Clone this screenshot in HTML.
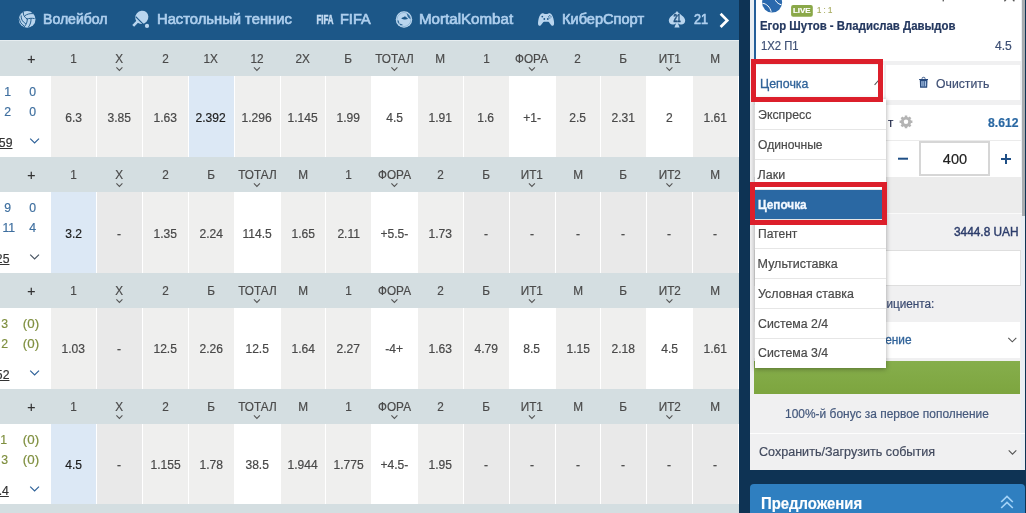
<!DOCTYPE html>
<html lang="ru">
<head>
<meta charset="utf-8">
<title>Цепочка</title>
<style>
html,body{margin:0;padding:0}
body{width:1026px;height:513px;overflow:hidden;background:#0e3354;font-family:"Liberation Sans",sans-serif;position:relative}
#pg{position:absolute;left:0;top:0;width:1026px;height:513px;overflow:hidden}
#pg div,#pg span,#pg svg{position:absolute}
#pg span{white-space:nowrap;-webkit-text-stroke-width:.2px}
</style>
</head>
<body>
<div id="pg">
<!-- nav -->
<div style="left:0;top:0;width:739px;height:40px;background:#1c5788"></div>
<div style="left:0;top:40px;width:739px;height:1px;background:#e6edf0"></div>
<div style="left:0px;top:41px;width:739px;height:35px;background:#d4dee1;"></div>
<div style="left:0px;top:76px;width:739px;height:81px;background:#fff;"></div>
<div style="left:51px;top:76px;width:45px;height:81px;background:#efefee;"></div>
<div style="left:97px;top:76px;width:45px;height:81px;background:#efefee;"></div>
<div style="left:143px;top:76px;width:45px;height:81px;background:#efefee;"></div>
<div style="left:189px;top:76px;width:45px;height:81px;background:#dce8f5;"></div>
<div style="left:235px;top:76px;width:45px;height:81px;background:#efefee;"></div>
<div style="left:281px;top:76px;width:44px;height:81px;background:#efefee;"></div>
<div style="left:326px;top:76px;width:45px;height:81px;background:#efefee;"></div>
<div style="left:418px;top:76px;width:45px;height:81px;background:#efefee;"></div>
<div style="left:464px;top:76px;width:45px;height:81px;background:#efefee;"></div>
<div style="left:556px;top:76px;width:44px;height:81px;background:#efefee;"></div>
<div style="left:601px;top:76px;width:45px;height:81px;background:#efefee;"></div>
<div style="left:693px;top:76px;width:45px;height:81px;background:#efefee;"></div>
<div style="left:0px;top:157px;width:739px;height:35px;background:#d4dee1;"></div>
<div style="left:0px;top:192px;width:739px;height:81px;background:#fff;"></div>
<div style="left:51px;top:192px;width:45px;height:81px;background:#dce8f5;"></div>
<div style="left:97px;top:192px;width:45px;height:81px;background:#e9e9e9;"></div>
<div style="left:143px;top:192px;width:45px;height:81px;background:#efefee;"></div>
<div style="left:189px;top:192px;width:45px;height:81px;background:#efefee;"></div>
<div style="left:281px;top:192px;width:44px;height:81px;background:#efefee;"></div>
<div style="left:326px;top:192px;width:45px;height:81px;background:#efefee;"></div>
<div style="left:418px;top:192px;width:45px;height:81px;background:#efefee;"></div>
<div style="left:464px;top:192px;width:45px;height:81px;background:#e9e9e9;"></div>
<div style="left:510px;top:192px;width:45px;height:81px;background:#e9e9e9;"></div>
<div style="left:556px;top:192px;width:44px;height:81px;background:#e9e9e9;"></div>
<div style="left:601px;top:192px;width:45px;height:81px;background:#e9e9e9;"></div>
<div style="left:647px;top:192px;width:45px;height:81px;background:#e9e9e9;"></div>
<div style="left:693px;top:192px;width:45px;height:81px;background:#e9e9e9;"></div>
<div style="left:0px;top:273px;width:739px;height:35px;background:#d4dee1;"></div>
<div style="left:0px;top:308px;width:739px;height:81px;background:#fff;"></div>
<div style="left:51px;top:308px;width:45px;height:81px;background:#efefee;"></div>
<div style="left:97px;top:308px;width:45px;height:81px;background:#e9e9e9;"></div>
<div style="left:143px;top:308px;width:45px;height:81px;background:#efefee;"></div>
<div style="left:189px;top:308px;width:45px;height:81px;background:#efefee;"></div>
<div style="left:281px;top:308px;width:44px;height:81px;background:#efefee;"></div>
<div style="left:326px;top:308px;width:45px;height:81px;background:#efefee;"></div>
<div style="left:418px;top:308px;width:45px;height:81px;background:#efefee;"></div>
<div style="left:464px;top:308px;width:45px;height:81px;background:#efefee;"></div>
<div style="left:556px;top:308px;width:44px;height:81px;background:#efefee;"></div>
<div style="left:601px;top:308px;width:45px;height:81px;background:#efefee;"></div>
<div style="left:693px;top:308px;width:45px;height:81px;background:#efefee;"></div>
<div style="left:0px;top:389px;width:739px;height:35px;background:#d4dee1;"></div>
<div style="left:0px;top:424px;width:739px;height:80px;background:#fff;"></div>
<div style="left:51px;top:424px;width:45px;height:80px;background:#dce8f5;"></div>
<div style="left:97px;top:424px;width:45px;height:80px;background:#e9e9e9;"></div>
<div style="left:143px;top:424px;width:45px;height:80px;background:#efefee;"></div>
<div style="left:189px;top:424px;width:45px;height:80px;background:#efefee;"></div>
<div style="left:281px;top:424px;width:44px;height:80px;background:#efefee;"></div>
<div style="left:326px;top:424px;width:45px;height:80px;background:#efefee;"></div>
<div style="left:418px;top:424px;width:45px;height:80px;background:#efefee;"></div>
<div style="left:464px;top:424px;width:45px;height:80px;background:#e9e9e9;"></div>
<div style="left:510px;top:424px;width:45px;height:80px;background:#e9e9e9;"></div>
<div style="left:556px;top:424px;width:44px;height:80px;background:#e9e9e9;"></div>
<div style="left:601px;top:424px;width:45px;height:80px;background:#e9e9e9;"></div>
<div style="left:647px;top:424px;width:45px;height:80px;background:#e9e9e9;"></div>
<div style="left:693px;top:424px;width:45px;height:80px;background:#e9e9e9;"></div>
<div style="left:0px;top:504px;width:739px;height:9px;background:#d4dee1;"></div>
<svg style="left:0;top:0" width="739" height="513" fill="none" stroke="#555" stroke-width="1.1"><path d="M30.2 138.6l4.4 4.4 4.4-4.4" stroke="#2f6299" stroke-width="1.2"/><path d="M30.2 254.6l4.4 4.4 4.4-4.4" stroke="#4a5663" stroke-width="1.2"/><path d="M30.2 370.6l4.4 4.4 4.4-4.4" stroke="#2f6299" stroke-width="1.2"/><path d="M30.2 486.6l4.4 4.4 4.4-4.4" stroke="#2f6299" stroke-width="1.2"/><path d="M116.4 67.4l3 3 3-3"/><path d="M253.9 67.4l3 3 3-3"/><path d="M391.4 67.4l3 3 3-3"/><path d="M528.9 67.4l3 3 3-3"/><path d="M666.4 67.4l3 3 3-3"/><path d="M116.4 183.4l3 3 3-3"/><path d="M253.9 183.4l3 3 3-3"/><path d="M391.4 183.4l3 3 3-3"/><path d="M528.9 183.4l3 3 3-3"/><path d="M666.4 183.4l3 3 3-3"/><path d="M116.4 299.4l3 3 3-3"/><path d="M253.9 299.4l3 3 3-3"/><path d="M391.4 299.4l3 3 3-3"/><path d="M528.9 299.4l3 3 3-3"/><path d="M666.4 299.4l3 3 3-3"/><path d="M116.4 415.4l3 3 3-3"/><path d="M253.9 415.4l3 3 3-3"/><path d="M391.4 415.4l3 3 3-3"/><path d="M528.9 415.4l3 3 3-3"/><path d="M666.4 415.4l3 3 3-3"/></svg>
<svg style="left:0;top:0" width="739" height="40" viewBox="0 0 739 40">
<!-- volleyball -->
<g>
<circle cx="27.150" cy="19.450" r="8.350" fill="#b9d5ee"/>
<g fill="none" stroke="#1c5788" stroke-width=".95" stroke-linecap="round">
<path d="M23.300 12.400c-.2 2.400.8 4.600 3.800 6.600"/>
<path d="M25 15.600c2-1.600 5-2.200 8-2"/>
<path d="M27.200 19c2.200-.8 4.600-.9 7-.5"/>
<path d="M27.300 19.200c0 2.800-.9 5.400-3 7.500"/>
<path d="M31 18.700c.2 2.900-.6 5.700-2.400 8.200"/>
<path d="M21.100 15.800c-.2 3.200 1.200 6 4.400 7.800"/>
<path d="M19.500 18.900c.2 2.800 1.700 5.200 4.300 6.800"/>
</g></g>
<!-- ping pong -->
<g>
<path d="M133.200 25.900l4.600-4.800" stroke="#b9d5ee" stroke-width="2.600" fill="none"/>
<ellipse cx="141.800" cy="17.300" rx="6.400" ry="6.800" fill="#b9d5ee" transform="rotate(40 141.800 17.300)"/>
<path d="M135.700 16.700l7.400 7.500" stroke="#1c5788" stroke-width="1.200" fill="none"/>
<circle cx="147" cy="25.900" r="2.100" fill="#b9d5ee"/>
</g>
<!-- FIFA logo -->
<text x="316.400" y="24" font-family="'Liberation Sans',sans-serif" font-size="12" font-weight="700" fill="#c3dbf2" stroke="#c3dbf2" stroke-width=".55" textLength="17.200" lengthAdjust="spacingAndGlyphs">FIFA</text>
<!-- MK -->
<g>
<circle cx="404" cy="19.500" r="8.200" fill="#c6def3"/>
<circle cx="404" cy="19.500" r="7" fill="#b9d5ee" stroke="#6f9fc8" stroke-width=".6"/>
<path d="M406.400 13.300c2.400 1 4 3.300 4.200 6-1-.6-2-1.600-2.800-2.400-.3-1.300-.8-2.500-1.400-3.600z" fill="#2f6a9c"/>
<path d="M401.300 18.400c.9-.8 2-1.300 2.600-1.400l.3-1 .6.900 1-.7-.1 1 1.200-.2-.5.900c.9.200 1.500.500 1.800.900-1.600.900-4.800 1.100-6.900-.4z" fill="#1c5788"/>
<path d="M398.100 20.800c.1 1 .4 1.800.9 2.400M400.300 24.300c.5.300 1.100.5 1.700.5" fill="none" stroke="#1c5788" stroke-width="1" stroke-linecap="round"/>
</g>
<!-- gamepad -->
<path d="M541.700 13.600c1-.5 2.200-.3 3 .5h2.700c.8-.8 2-1 3-.5 1.800.8 3 4.300 3.500 7.500.4 2.600.2 4.300-.8 4.600-1.300.4-2.400-1-3.600-2.800-.5-.8-1-1.100-1.700-1.100h-3.500c-.7 0-1.200.3-1.700 1.100-1.200 1.800-2.300 3.200-3.600 2.800-1-.3-1.200-2-.8-4.600.5-3.200 1.700-6.700 3.500-7.500z" fill="#b9d5ee"/>
<g fill="#1c5788"><circle cx="542.300" cy="16.600" r=".9"/><circle cx="549.800" cy="15.600" r=".6"/><circle cx="551" cy="16.800" r=".6"/><circle cx="548.600" cy="16.800" r=".6"/><circle cx="549.800" cy="18" r=".6"/><circle cx="544.300" cy="19" r=".9"/><circle cx="547.800" cy="19" r=".9"/></g>
<!-- spade -->
<g>
<path d="M677 10.900C679 14 685.200 16.400 685.200 20.500C685.200 23 683.400 24.400 681.400 24.400C680 24.400 678.700 23.900 677.800 22.900L679.600 27.600H674.400L676.200 22.900C675.300 23.900 674 24.400 672.600 24.400C670.600 24.400 668.800 23 668.800 20.500C668.800 16.400 675 14 677 10.900Z" fill="#b9d5ee"/>
<text x="677.100" y="22.300" font-family="'Liberation Sans',sans-serif" font-size="10.600" font-weight="700" fill="#1f4f7c" stroke="#1f4f7c" stroke-width=".45" text-anchor="middle" textLength="7.300" lengthAdjust="spacingAndGlyphs">21</text>
</g>
<!-- next arrow -->
<path d="M720.600 13.800l6.600 6.600-6.600 6.600" fill="none" stroke="#fff" stroke-width="2.700"/>
</svg>
<!-- right panel -->
<div style="left:750px;top:0;width:275px;height:470px;background:#f0f0f1"></div>
<div style="left:1021px;top:0;width:4px;height:470px;background:#e9eef4"></div>
<div style="left:750px;top:0;width:4px;height:61px;background:#e9eef3"></div>
<div style="left:756px;top:0;width:265px;height:61px;background:#fff"></div>
<div style="left:754px;top:0;width:2px;height:61px;background:#255f9a"></div>
<div style="left:754px;top:65px;width:130px;height:35px;background:#fff"></div>
<div style="left:886px;top:65px;width:134px;height:35px;background:#fff"></div>
<div style="left:754px;top:105px;width:267px;height:72px;background:#fff"></div>
<div style="left:754px;top:140px;width:267px;height:1px;background:#ebebeb"></div>
<div style="left:919px;top:141px;width:67px;height:31px;background:#fff;border:2px solid #d6d6d6"></div>
<div style="left:754px;top:177px;width:267px;height:36px;background:#ececec"></div>
<div style="left:750px;top:213px;width:275px;height:1px;background:#fafafa"></div>
<div style="left:754px;top:250px;width:265px;height:34px;background:#fff;border:1px solid #dedede"></div>
<div style="left:754px;top:322px;width:266px;height:36px;background:#fff"></div>
<div style="left:754px;top:361px;width:266px;height:33px;background:linear-gradient(#86ae4c,#7da53f)"></div>
<div style="left:750px;top:433px;width:275px;height:1px;background:#fdfdfd"></div>
<div style="left:750px;top:484px;width:275px;height:29px;background:#2f7fc0;border-radius:4px 4px 0 0"></div>
<div style="left:1022px;top:0;width:3px;height:216px;background:#a8acb0"></div>
<svg style="left:739px;top:0" width="287" height="513" viewBox="739 0 287 513">
<!-- tennis ball -->
<circle cx="772.100" cy="2.600" r="10" fill="#2b69ad"/>
<path d="M762.400 3.200c4.200.6 7.600 3.800 8.800 8.600M774.600 -2c.6 3.200 3.200 6 6.800 6.800" fill="none" stroke="#fff" stroke-width="1"/>
<!-- live badge -->
<rect x="791.100" y="5.100" width="21.700" height="11.700" rx="2" fill="#8aa848"/>
<!-- top partial marks -->
<path d="M1009.400 -4L1004.400 1.200M1009.400 -4L1014.400 1.200" fill="none" stroke="#555" stroke-width="1.300"/>
<rect x="942.600" y="0" width="1.300" height="1.400" fill="#555"/>
<!-- select caret -->
<path d="M874.600 84.800l3.400-3.800 3.400 3.800" fill="none" stroke="#555" stroke-width="1.100"/>
<!-- trash -->
<g>
<rect x="919.100" y="79" width="8.900" height="1" fill="#27497d"/>
<path d="M922.100 79v-.7a1 1 0 0 1 1-1h.9a1 1 0 0 1 1 1v.7" fill="none" stroke="#27497d" stroke-width=".8"/>
<path d="M919.800 79.900h7.700l-.3 7.900h-7.100z" fill="#27497d"/>
<rect x="921.300" y="81.100" width="4.800" height="5.300" fill="#a9c4e6"/>
<rect x="922.600" y="81.100" width=".7" height="5.300" fill="#27497d"/>
<rect x="924.200" y="81.100" width=".7" height="5.300" fill="#27497d"/>
</g>
<!-- gear -->
<g transform="translate(906 121.800)">
<circle r="3.700" fill="none" stroke="#b4b4b4" stroke-width="2.900"/>
<g stroke="#b4b4b4" stroke-width="2.500">
<path d="M0 -6.400V-4M0 6.400V4M-6.400 0H-4M6.400 0H4M-4.530 -4.530L-2.900 -2.900M4.530 4.530L2.900 2.900M-4.530 4.530L-2.900 2.900M4.530 -4.530L2.900 -2.900"/>
</g>
</g>
<!-- minus / plus -->
<rect x="898" y="157.700" width="10" height="2" fill="#1f4f86"/>
<rect x="1001" y="158" width="10" height="2" fill="#1f4f86"/>
<rect x="1005" y="154" width="2" height="10" fill="#1f4f86"/>
<!-- chevrons -->
<path d="M1008.300 337.800l4 4 4-4" fill="none" stroke="#555" stroke-width="1.100"/>
<path d="M1008.700 450.400l3.800 3.800 3.800-3.800" fill="none" stroke="#555" stroke-width="1.100"/>
<!-- double chevron up -->
<path d="M1001.200 502l5.800-5.500 5.800 5.500M1001.200 508l5.800-5.500 5.800 5.500" fill="none" stroke="#a3d3f7" stroke-width="1.700"/>
</svg>
<span style="left:43.40px;top:9.40px;font-size:14px;line-height:20px;color:#aecfee;transform:scaleX(1.005);transform-origin:0 50%;-webkit-text-stroke:0.65px #aecfee;">Волейбол</span>
<span style="left:157.20px;top:9.40px;font-size:14px;line-height:20px;color:#aecfee;transform:scaleX(1.054);transform-origin:0 50%;-webkit-text-stroke:0.65px #aecfee;">Настольный теннис</span>
<span style="left:340.40px;top:9.40px;font-size:14px;line-height:20px;color:#aecfee;transform:scaleX(1.035);transform-origin:0 50%;-webkit-text-stroke:0.65px #aecfee;">FIFA</span>
<span style="left:419.40px;top:9.40px;font-size:14px;line-height:20px;color:#aecfee;transform:scaleX(1.080);transform-origin:0 50%;-webkit-text-stroke:0.65px #aecfee;">MortalKombat</span>
<span style="left:562.40px;top:9.40px;font-size:14px;line-height:20px;color:#aecfee;transform:scaleX(1.042);transform-origin:0 50%;-webkit-text-stroke:0.65px #aecfee;">КиберСпорт</span>
<span style="left:693.50px;top:9.40px;font-size:14px;line-height:20px;color:#aecfee;transform:scaleX(0.899);transform-origin:0 50%;-webkit-text-stroke:0.65px #aecfee;">21</span>
<span style="left:70.14px;top:48.60px;font-size:12.5px;line-height:20px;color:#4a4a4a;transform:scaleX(0.940);transform-origin:50% 50%;">1</span>
<span style="left:64.92px;top:108.10px;font-size:12.5px;line-height:20px;color:#484848;transform:scaleX(0.965);transform-origin:50% 50%;">6.3</span>
<span style="left:115.27px;top:48.60px;font-size:12.5px;line-height:20px;color:#4a4a4a;transform:scaleX(0.940);transform-origin:50% 50%;">X</span>
<span style="left:107.27px;top:108.10px;font-size:12.5px;line-height:20px;color:#484848;transform:scaleX(0.965);transform-origin:50% 50%;">3.85</span>
<span style="left:161.80px;top:48.60px;font-size:12.5px;line-height:20px;color:#4a4a4a;transform:scaleX(0.940);transform-origin:50% 50%;">2</span>
<span style="left:153.10px;top:108.10px;font-size:12.5px;line-height:20px;color:#484848;transform:scaleX(0.965);transform-origin:50% 50%;">1.63</span>
<span style="left:203.46px;top:48.60px;font-size:12.5px;line-height:20px;color:#4a4a4a;transform:scaleX(0.940);transform-origin:50% 50%;">1X</span>
<span style="left:195.46px;top:108.10px;font-size:12.5px;line-height:20px;color:#1d1d1d;transform:scaleX(0.965);transform-origin:50% 50%;">2.392</span>
<span style="left:249.98px;top:48.60px;font-size:12.5px;line-height:20px;color:#4a4a4a;transform:scaleX(0.940);transform-origin:50% 50%;">12</span>
<span style="left:241.29px;top:108.10px;font-size:12.5px;line-height:20px;color:#484848;transform:scaleX(0.965);transform-origin:50% 50%;">1.296</span>
<span style="left:295.12px;top:48.60px;font-size:12.5px;line-height:20px;color:#4a4a4a;transform:scaleX(0.940);transform-origin:50% 50%;">2X</span>
<span style="left:287.12px;top:108.10px;font-size:12.5px;line-height:20px;color:#484848;transform:scaleX(0.965);transform-origin:50% 50%;">1.145</span>
<span style="left:344.49px;top:48.60px;font-size:12.5px;line-height:20px;color:#4a4a4a;transform:scaleX(0.940);transform-origin:50% 50%;">Б</span>
<span style="left:336.42px;top:108.10px;font-size:12.5px;line-height:20px;color:#484848;transform:scaleX(0.965);transform-origin:50% 50%;">1.99</span>
<span style="left:374.00px;top:48.60px;font-size:12.5px;line-height:20px;color:#4a4a4a;transform:scaleX(0.940);transform-origin:50% 50%;">ТОТАЛ</span>
<span style="left:385.73px;top:108.10px;font-size:12.5px;line-height:20px;color:#484848;transform:scaleX(0.965);transform-origin:50% 50%;">4.5</span>
<span style="left:435.04px;top:48.60px;font-size:12.5px;line-height:20px;color:#4a4a4a;transform:scaleX(0.940);transform-origin:50% 50%;">М</span>
<span style="left:428.08px;top:108.10px;font-size:12.5px;line-height:20px;color:#484848;transform:scaleX(0.965);transform-origin:50% 50%;">1.91</span>
<span style="left:482.61px;top:48.60px;font-size:12.5px;line-height:20px;color:#4a4a4a;transform:scaleX(0.940);transform-origin:50% 50%;">1</span>
<span style="left:477.39px;top:108.10px;font-size:12.5px;line-height:20px;color:#484848;transform:scaleX(0.965);transform-origin:50% 50%;">1.6</span>
<span style="left:514.38px;top:48.60px;font-size:12.5px;line-height:20px;color:#4a4a4a;transform:scaleX(0.940);transform-origin:50% 50%;">ФОРА</span>
<span style="left:522.70px;top:108.10px;font-size:12.5px;line-height:20px;color:#484848;transform:scaleX(0.965);transform-origin:50% 50%;">+1-</span>
<span style="left:574.27px;top:48.60px;font-size:12.5px;line-height:20px;color:#4a4a4a;transform:scaleX(0.940);transform-origin:50% 50%;">2</span>
<span style="left:569.05px;top:108.10px;font-size:12.5px;line-height:20px;color:#484848;transform:scaleX(0.965);transform-origin:50% 50%;">2.5</span>
<span style="left:619.47px;top:48.60px;font-size:12.5px;line-height:20px;color:#4a4a4a;transform:scaleX(0.940);transform-origin:50% 50%;">Б</span>
<span style="left:611.40px;top:108.10px;font-size:12.5px;line-height:20px;color:#484848;transform:scaleX(0.965);transform-origin:50% 50%;">2.31</span>
<span style="left:657.62px;top:48.60px;font-size:12.5px;line-height:20px;color:#4a4a4a;transform:scaleX(0.940);transform-origin:50% 50%;">ИТ1</span>
<span style="left:665.93px;top:108.10px;font-size:12.5px;line-height:20px;color:#484848;transform:scaleX(0.965);transform-origin:50% 50%;">2</span>
<span style="left:710.02px;top:48.60px;font-size:12.5px;line-height:20px;color:#4a4a4a;transform:scaleX(0.940);transform-origin:50% 50%;">М</span>
<span style="left:703.06px;top:108.10px;font-size:12.5px;line-height:20px;color:#484848;transform:scaleX(0.965);transform-origin:50% 50%;">1.61</span>
<span style="left:27.21px;top:48.50px;font-size:14px;line-height:20px;color:#333;">+</span>
<span style="left:70.14px;top:164.60px;font-size:12.5px;line-height:20px;color:#4a4a4a;transform:scaleX(0.940);transform-origin:50% 50%;">1</span>
<span style="left:64.92px;top:224.10px;font-size:12.5px;line-height:20px;color:#1d1d1d;transform:scaleX(0.965);transform-origin:50% 50%;">3.2</span>
<span style="left:115.27px;top:164.60px;font-size:12.5px;line-height:20px;color:#4a4a4a;transform:scaleX(0.940);transform-origin:50% 50%;">X</span>
<span style="left:117.36px;top:224.10px;font-size:12.5px;line-height:20px;color:#484848;transform:scaleX(0.965);transform-origin:50% 50%;">-</span>
<span style="left:161.80px;top:164.60px;font-size:12.5px;line-height:20px;color:#4a4a4a;transform:scaleX(0.940);transform-origin:50% 50%;">2</span>
<span style="left:153.10px;top:224.10px;font-size:12.5px;line-height:20px;color:#484848;transform:scaleX(0.965);transform-origin:50% 50%;">1.35</span>
<span style="left:207.00px;top:164.60px;font-size:12.5px;line-height:20px;color:#4a4a4a;transform:scaleX(0.940);transform-origin:50% 50%;">Б</span>
<span style="left:198.93px;top:224.10px;font-size:12.5px;line-height:20px;color:#484848;transform:scaleX(0.965);transform-origin:50% 50%;">2.24</span>
<span style="left:236.51px;top:164.60px;font-size:12.5px;line-height:20px;color:#4a4a4a;transform:scaleX(0.940);transform-origin:50% 50%;">ТОТАЛ</span>
<span style="left:241.76px;top:224.10px;font-size:12.5px;line-height:20px;color:#484848;transform:scaleX(0.965);transform-origin:50% 50%;">114.5</span>
<span style="left:297.55px;top:164.60px;font-size:12.5px;line-height:20px;color:#4a4a4a;transform:scaleX(0.940);transform-origin:50% 50%;">М</span>
<span style="left:290.59px;top:224.10px;font-size:12.5px;line-height:20px;color:#484848;transform:scaleX(0.965);transform-origin:50% 50%;">1.65</span>
<span style="left:345.12px;top:164.60px;font-size:12.5px;line-height:20px;color:#4a4a4a;transform:scaleX(0.940);transform-origin:50% 50%;">1</span>
<span style="left:336.89px;top:224.10px;font-size:12.5px;line-height:20px;color:#484848;transform:scaleX(0.965);transform-origin:50% 50%;">2.11</span>
<span style="left:376.89px;top:164.60px;font-size:12.5px;line-height:20px;color:#4a4a4a;transform:scaleX(0.940);transform-origin:50% 50%;">ФОРА</span>
<span style="left:380.00px;top:224.10px;font-size:12.5px;line-height:20px;color:#484848;transform:scaleX(0.965);transform-origin:50% 50%;">+5.5-</span>
<span style="left:436.78px;top:164.60px;font-size:12.5px;line-height:20px;color:#4a4a4a;transform:scaleX(0.940);transform-origin:50% 50%;">2</span>
<span style="left:428.08px;top:224.10px;font-size:12.5px;line-height:20px;color:#484848;transform:scaleX(0.965);transform-origin:50% 50%;">1.73</span>
<span style="left:481.98px;top:164.60px;font-size:12.5px;line-height:20px;color:#4a4a4a;transform:scaleX(0.940);transform-origin:50% 50%;">Б</span>
<span style="left:484.00px;top:224.10px;font-size:12.5px;line-height:20px;color:#484848;transform:scaleX(0.965);transform-origin:50% 50%;">-</span>
<span style="left:520.13px;top:164.60px;font-size:12.5px;line-height:20px;color:#4a4a4a;transform:scaleX(0.940);transform-origin:50% 50%;">ИТ1</span>
<span style="left:529.83px;top:224.10px;font-size:12.5px;line-height:20px;color:#484848;transform:scaleX(0.965);transform-origin:50% 50%;">-</span>
<span style="left:572.53px;top:164.60px;font-size:12.5px;line-height:20px;color:#4a4a4a;transform:scaleX(0.940);transform-origin:50% 50%;">М</span>
<span style="left:575.66px;top:224.10px;font-size:12.5px;line-height:20px;color:#484848;transform:scaleX(0.965);transform-origin:50% 50%;">-</span>
<span style="left:619.47px;top:164.60px;font-size:12.5px;line-height:20px;color:#4a4a4a;transform:scaleX(0.940);transform-origin:50% 50%;">Б</span>
<span style="left:621.49px;top:224.10px;font-size:12.5px;line-height:20px;color:#484848;transform:scaleX(0.965);transform-origin:50% 50%;">-</span>
<span style="left:657.62px;top:164.60px;font-size:12.5px;line-height:20px;color:#4a4a4a;transform:scaleX(0.940);transform-origin:50% 50%;">ИТ2</span>
<span style="left:667.32px;top:224.10px;font-size:12.5px;line-height:20px;color:#484848;transform:scaleX(0.965);transform-origin:50% 50%;">-</span>
<span style="left:710.02px;top:164.60px;font-size:12.5px;line-height:20px;color:#4a4a4a;transform:scaleX(0.940);transform-origin:50% 50%;">М</span>
<span style="left:713.15px;top:224.10px;font-size:12.5px;line-height:20px;color:#484848;transform:scaleX(0.965);transform-origin:50% 50%;">-</span>
<span style="left:27.21px;top:164.50px;font-size:14px;line-height:20px;color:#333;">+</span>
<span style="left:70.14px;top:280.60px;font-size:12.5px;line-height:20px;color:#4a4a4a;transform:scaleX(0.940);transform-origin:50% 50%;">1</span>
<span style="left:61.44px;top:339.20px;font-size:12.5px;line-height:20px;color:#484848;transform:scaleX(0.965);transform-origin:50% 50%;">1.03</span>
<span style="left:115.27px;top:280.60px;font-size:12.5px;line-height:20px;color:#4a4a4a;transform:scaleX(0.940);transform-origin:50% 50%;">X</span>
<span style="left:117.36px;top:339.20px;font-size:12.5px;line-height:20px;color:#484848;transform:scaleX(0.965);transform-origin:50% 50%;">-</span>
<span style="left:161.80px;top:280.60px;font-size:12.5px;line-height:20px;color:#4a4a4a;transform:scaleX(0.940);transform-origin:50% 50%;">2</span>
<span style="left:153.10px;top:339.20px;font-size:12.5px;line-height:20px;color:#484848;transform:scaleX(0.965);transform-origin:50% 50%;">12.5</span>
<span style="left:207.00px;top:280.60px;font-size:12.5px;line-height:20px;color:#4a4a4a;transform:scaleX(0.940);transform-origin:50% 50%;">Б</span>
<span style="left:198.93px;top:339.20px;font-size:12.5px;line-height:20px;color:#484848;transform:scaleX(0.965);transform-origin:50% 50%;">2.26</span>
<span style="left:236.51px;top:280.60px;font-size:12.5px;line-height:20px;color:#4a4a4a;transform:scaleX(0.940);transform-origin:50% 50%;">ТОТАЛ</span>
<span style="left:244.76px;top:339.20px;font-size:12.5px;line-height:20px;color:#484848;transform:scaleX(0.965);transform-origin:50% 50%;">12.5</span>
<span style="left:297.55px;top:280.60px;font-size:12.5px;line-height:20px;color:#4a4a4a;transform:scaleX(0.940);transform-origin:50% 50%;">М</span>
<span style="left:290.59px;top:339.20px;font-size:12.5px;line-height:20px;color:#484848;transform:scaleX(0.965);transform-origin:50% 50%;">1.64</span>
<span style="left:345.12px;top:280.60px;font-size:12.5px;line-height:20px;color:#4a4a4a;transform:scaleX(0.940);transform-origin:50% 50%;">1</span>
<span style="left:336.42px;top:339.20px;font-size:12.5px;line-height:20px;color:#484848;transform:scaleX(0.965);transform-origin:50% 50%;">2.27</span>
<span style="left:376.89px;top:280.60px;font-size:12.5px;line-height:20px;color:#4a4a4a;transform:scaleX(0.940);transform-origin:50% 50%;">ФОРА</span>
<span style="left:385.21px;top:339.20px;font-size:12.5px;line-height:20px;color:#484848;transform:scaleX(0.965);transform-origin:50% 50%;">-4+</span>
<span style="left:436.78px;top:280.60px;font-size:12.5px;line-height:20px;color:#4a4a4a;transform:scaleX(0.940);transform-origin:50% 50%;">2</span>
<span style="left:428.08px;top:339.20px;font-size:12.5px;line-height:20px;color:#484848;transform:scaleX(0.965);transform-origin:50% 50%;">1.63</span>
<span style="left:481.98px;top:280.60px;font-size:12.5px;line-height:20px;color:#4a4a4a;transform:scaleX(0.940);transform-origin:50% 50%;">Б</span>
<span style="left:473.91px;top:339.20px;font-size:12.5px;line-height:20px;color:#484848;transform:scaleX(0.965);transform-origin:50% 50%;">4.79</span>
<span style="left:520.13px;top:280.60px;font-size:12.5px;line-height:20px;color:#4a4a4a;transform:scaleX(0.940);transform-origin:50% 50%;">ИТ1</span>
<span style="left:523.22px;top:339.20px;font-size:12.5px;line-height:20px;color:#484848;transform:scaleX(0.965);transform-origin:50% 50%;">8.5</span>
<span style="left:572.53px;top:280.60px;font-size:12.5px;line-height:20px;color:#4a4a4a;transform:scaleX(0.940);transform-origin:50% 50%;">М</span>
<span style="left:565.57px;top:339.20px;font-size:12.5px;line-height:20px;color:#484848;transform:scaleX(0.965);transform-origin:50% 50%;">1.15</span>
<span style="left:619.47px;top:280.60px;font-size:12.5px;line-height:20px;color:#4a4a4a;transform:scaleX(0.940);transform-origin:50% 50%;">Б</span>
<span style="left:611.40px;top:339.20px;font-size:12.5px;line-height:20px;color:#484848;transform:scaleX(0.965);transform-origin:50% 50%;">2.18</span>
<span style="left:657.62px;top:280.60px;font-size:12.5px;line-height:20px;color:#4a4a4a;transform:scaleX(0.940);transform-origin:50% 50%;">ИТ2</span>
<span style="left:660.71px;top:339.20px;font-size:12.5px;line-height:20px;color:#484848;transform:scaleX(0.965);transform-origin:50% 50%;">4.5</span>
<span style="left:710.02px;top:280.60px;font-size:12.5px;line-height:20px;color:#4a4a4a;transform:scaleX(0.940);transform-origin:50% 50%;">М</span>
<span style="left:703.06px;top:339.20px;font-size:12.5px;line-height:20px;color:#484848;transform:scaleX(0.965);transform-origin:50% 50%;">1.61</span>
<span style="left:27.21px;top:280.50px;font-size:14px;line-height:20px;color:#333;">+</span>
<span style="left:70.14px;top:396.60px;font-size:12.5px;line-height:20px;color:#4a4a4a;transform:scaleX(0.940);transform-origin:50% 50%;">1</span>
<span style="left:64.92px;top:455.20px;font-size:12.5px;line-height:20px;color:#1d1d1d;transform:scaleX(0.965);transform-origin:50% 50%;">4.5</span>
<span style="left:115.27px;top:396.60px;font-size:12.5px;line-height:20px;color:#4a4a4a;transform:scaleX(0.940);transform-origin:50% 50%;">X</span>
<span style="left:117.36px;top:455.20px;font-size:12.5px;line-height:20px;color:#484848;transform:scaleX(0.965);transform-origin:50% 50%;">-</span>
<span style="left:161.80px;top:396.60px;font-size:12.5px;line-height:20px;color:#4a4a4a;transform:scaleX(0.940);transform-origin:50% 50%;">2</span>
<span style="left:149.63px;top:455.20px;font-size:12.5px;line-height:20px;color:#484848;transform:scaleX(0.965);transform-origin:50% 50%;">1.155</span>
<span style="left:207.00px;top:396.60px;font-size:12.5px;line-height:20px;color:#4a4a4a;transform:scaleX(0.940);transform-origin:50% 50%;">Б</span>
<span style="left:198.93px;top:455.20px;font-size:12.5px;line-height:20px;color:#484848;transform:scaleX(0.965);transform-origin:50% 50%;">1.78</span>
<span style="left:236.51px;top:396.60px;font-size:12.5px;line-height:20px;color:#4a4a4a;transform:scaleX(0.940);transform-origin:50% 50%;">ТОТАЛ</span>
<span style="left:244.76px;top:455.20px;font-size:12.5px;line-height:20px;color:#484848;transform:scaleX(0.965);transform-origin:50% 50%;">38.5</span>
<span style="left:297.55px;top:396.60px;font-size:12.5px;line-height:20px;color:#4a4a4a;transform:scaleX(0.940);transform-origin:50% 50%;">М</span>
<span style="left:287.12px;top:455.20px;font-size:12.5px;line-height:20px;color:#484848;transform:scaleX(0.965);transform-origin:50% 50%;">1.944</span>
<span style="left:345.12px;top:396.60px;font-size:12.5px;line-height:20px;color:#4a4a4a;transform:scaleX(0.940);transform-origin:50% 50%;">1</span>
<span style="left:332.95px;top:455.20px;font-size:12.5px;line-height:20px;color:#484848;transform:scaleX(0.965);transform-origin:50% 50%;">1.775</span>
<span style="left:376.89px;top:396.60px;font-size:12.5px;line-height:20px;color:#4a4a4a;transform:scaleX(0.940);transform-origin:50% 50%;">ФОРА</span>
<span style="left:380.00px;top:455.20px;font-size:12.5px;line-height:20px;color:#484848;transform:scaleX(0.965);transform-origin:50% 50%;">+4.5-</span>
<span style="left:436.78px;top:396.60px;font-size:12.5px;line-height:20px;color:#4a4a4a;transform:scaleX(0.940);transform-origin:50% 50%;">2</span>
<span style="left:428.08px;top:455.20px;font-size:12.5px;line-height:20px;color:#484848;transform:scaleX(0.965);transform-origin:50% 50%;">1.95</span>
<span style="left:481.98px;top:396.60px;font-size:12.5px;line-height:20px;color:#4a4a4a;transform:scaleX(0.940);transform-origin:50% 50%;">Б</span>
<span style="left:484.00px;top:455.20px;font-size:12.5px;line-height:20px;color:#484848;transform:scaleX(0.965);transform-origin:50% 50%;">-</span>
<span style="left:520.13px;top:396.60px;font-size:12.5px;line-height:20px;color:#4a4a4a;transform:scaleX(0.940);transform-origin:50% 50%;">ИТ1</span>
<span style="left:529.83px;top:455.20px;font-size:12.5px;line-height:20px;color:#484848;transform:scaleX(0.965);transform-origin:50% 50%;">-</span>
<span style="left:572.53px;top:396.60px;font-size:12.5px;line-height:20px;color:#4a4a4a;transform:scaleX(0.940);transform-origin:50% 50%;">М</span>
<span style="left:575.66px;top:455.20px;font-size:12.5px;line-height:20px;color:#484848;transform:scaleX(0.965);transform-origin:50% 50%;">-</span>
<span style="left:619.47px;top:396.60px;font-size:12.5px;line-height:20px;color:#4a4a4a;transform:scaleX(0.940);transform-origin:50% 50%;">Б</span>
<span style="left:621.49px;top:455.20px;font-size:12.5px;line-height:20px;color:#484848;transform:scaleX(0.965);transform-origin:50% 50%;">-</span>
<span style="left:657.62px;top:396.60px;font-size:12.5px;line-height:20px;color:#4a4a4a;transform:scaleX(0.940);transform-origin:50% 50%;">ИТ2</span>
<span style="left:667.32px;top:455.20px;font-size:12.5px;line-height:20px;color:#484848;transform:scaleX(0.965);transform-origin:50% 50%;">-</span>
<span style="left:710.02px;top:396.60px;font-size:12.5px;line-height:20px;color:#4a4a4a;transform:scaleX(0.940);transform-origin:50% 50%;">М</span>
<span style="left:713.15px;top:455.20px;font-size:12.5px;line-height:20px;color:#484848;transform:scaleX(0.965);transform-origin:50% 50%;">-</span>
<span style="left:27.21px;top:396.50px;font-size:14px;line-height:20px;color:#333;">+</span>
<span style="left:3.88px;top:82.00px;font-size:13px;line-height:20px;color:#3f6f9f;transform:scaleX(0.940);transform-origin:50% 50%;">1</span>
<span style="left:28.68px;top:82.00px;font-size:13px;line-height:20px;color:#3f6f9f;transform:scaleX(0.940);transform-origin:50% 50%;">0</span>
<span style="left:4.38px;top:102.30px;font-size:13px;line-height:20px;color:#3f6f9f;transform:scaleX(0.940);transform-origin:50% 50%;">2</span>
<span style="left:28.68px;top:102.30px;font-size:13px;line-height:20px;color:#3f6f9f;transform:scaleX(0.940);transform-origin:50% 50%;">0</span>
<span style="left:-1.97px;top:132.50px;font-size:13px;line-height:20px;color:#333;transform:scaleX(0.940);transform-origin:100% 50%;text-decoration:underline;">59</span>
<span style="left:4.38px;top:198.00px;font-size:13px;line-height:20px;color:#3f6f9f;transform:scaleX(0.940);transform-origin:50% 50%;">9</span>
<span style="left:28.68px;top:198.00px;font-size:13px;line-height:20px;color:#3f6f9f;transform:scaleX(0.940);transform-origin:50% 50%;">0</span>
<span style="left:1.55px;top:218.30px;font-size:13px;line-height:20px;color:#3f6f9f;transform:scaleX(0.940);transform-origin:50% 50%;">11</span>
<span style="left:28.68px;top:218.30px;font-size:13px;line-height:20px;color:#3f6f9f;transform:scaleX(0.940);transform-origin:50% 50%;">4</span>
<span style="left:-5.47px;top:248.50px;font-size:13px;line-height:20px;color:#333;transform:scaleX(0.940);transform-origin:100% 50%;text-decoration:underline;">25</span>
<span style="left:1.38px;top:314.00px;font-size:13px;line-height:20px;color:#7f8f3f;transform:scaleX(0.940);transform-origin:50% 50%;">3</span>
<span style="left:23.25px;top:314.00px;font-size:13px;line-height:20px;color:#7f8f3f;transform:scaleX(1.026);transform-origin:50% 50%;">(0)</span>
<span style="left:1.38px;top:334.30px;font-size:13px;line-height:20px;color:#7f8f3f;transform:scaleX(0.940);transform-origin:50% 50%;">2</span>
<span style="left:23.25px;top:334.30px;font-size:13px;line-height:20px;color:#7f8f3f;transform:scaleX(1.026);transform-origin:50% 50%;">(0)</span>
<span style="left:-5.47px;top:364.50px;font-size:13px;line-height:20px;color:#333;transform:scaleX(0.940);transform-origin:100% 50%;text-decoration:underline;">52</span>
<span style="left:0.18px;top:430.00px;font-size:13px;line-height:20px;color:#7f8f3f;transform:scaleX(0.940);transform-origin:50% 50%;">1</span>
<span style="left:23.25px;top:430.00px;font-size:13px;line-height:20px;color:#7f8f3f;transform:scaleX(1.026);transform-origin:50% 50%;">(0)</span>
<span style="left:1.38px;top:450.30px;font-size:13px;line-height:20px;color:#7f8f3f;transform:scaleX(0.940);transform-origin:50% 50%;">3</span>
<span style="left:23.25px;top:450.30px;font-size:13px;line-height:20px;color:#7f8f3f;transform:scaleX(1.026);transform-origin:50% 50%;">(0)</span>
<span style="left:-1.84px;top:480.50px;font-size:13px;line-height:20px;color:#333;transform:scaleX(0.940);transform-origin:100% 50%;text-decoration:underline;">.4</span>
<span style="left:759.90px;top:15.80px;font-size:12.2px;line-height:20px;color:#24385f;font-weight:700;transform:scaleX(0.936);transform-origin:0 50%;">Егор Шутов - Владислав Давыдов</span>
<span style="left:761.00px;top:35.80px;font-size:12px;line-height:20px;color:#3e5075;transform:scaleX(0.938);transform-origin:0 50%;">1X2 П1</span>
<span style="left:995.20px;top:35.80px;font-size:12px;line-height:20px;color:#3e5075;transform:scaleX(1.007);transform-origin:0 50%;">4.5</span>
<span style="left:793.40px;top:1.20px;font-size:8px;line-height:20px;color:#fff;font-weight:700;transform:scaleX(0.990);transform-origin:0 50%;">LIVE</span>
<span style="left:816.70px;top:0.40px;font-size:8.5px;line-height:20px;color:#a9ad62;transform:scaleX(0.925);transform-origin:0 50%;">1 : 1</span>
<span style="left:759.60px;top:73.50px;font-size:12.5px;line-height:20px;color:#2f6299;transform:scaleX(0.991);transform-origin:0 50%;-webkit-text-stroke:0.3px #2f6299;">Цепочка</span>
<span style="left:936.00px;top:73.50px;font-size:12.5px;line-height:20px;color:#3f4f74;transform:scaleX(0.979);transform-origin:0 50%;">Очистить</span>
<span style="left:764.91px;top:112.50px;font-size:12.5px;line-height:20px;color:#2a3c63;transform:scaleX(0.940);transform-origin:100% 50%;">Общий коэффициен</span>
<span style="left:887.90px;top:112.50px;font-size:12.5px;line-height:20px;color:#222a4a;transform:scaleX(0.924);transform-origin:0 50%;">т</span>
<span style="left:987.50px;top:112.50px;font-size:13px;line-height:20px;color:#2a68a3;font-weight:700;transform:scaleX(0.937);transform-origin:0 50%;">8.612</span>
<span style="left:941.76px;top:148.70px;font-size:15.5px;line-height:20px;color:#222;transform:scaleX(0.940);transform-origin:50% 50%;">400</span>
<span style="left:953.50px;top:221.60px;font-size:13px;line-height:20px;color:#2d3d6b;transform:scaleX(0.911);transform-origin:0 50%;-webkit-text-stroke:0.45px #2d3d6b;">3444.8 UAH</span>
<span style="left:750.66px;top:294.00px;font-size:12.5px;line-height:20px;color:#3a4a70;transform:scaleX(0.940);transform-origin:100% 50%;">При изменении коэффициента:</span>
<span style="left:819.47px;top:330.40px;font-size:12.5px;line-height:20px;color:#2f6299;transform:scaleX(0.950);transform-origin:100% 50%;-webkit-text-stroke:0.3px #2f6299;">Подтверждение</span>
<span style="left:785.30px;top:404.00px;font-size:12.5px;line-height:20px;color:#44587c;transform:scaleX(0.956);transform-origin:0 50%;">100%-й бонус за первое пополнение</span>
<span style="left:759.00px;top:442.00px;font-size:12.5px;line-height:20px;color:#424a5e;transform:scaleX(1.005);transform-origin:0 50%;">Сохранить/Загрузить события</span>
<span style="left:760.60px;top:492.85px;font-size:16.3px;line-height:20px;color:#fff;font-weight:700;transform:scaleX(0.915);transform-origin:0 50%;">Предложения</span>
<!-- dropdown -->
<div style="left:755px;top:99px;width:131px;height:269px;background:#fff;box-shadow:0 1px 5px rgba(0,0,0,.35)"></div>
<div style="left:755px;top:129px;width:131px;height:1px;background:#e6e6e6"></div>
<div style="left:755px;top:159px;width:131px;height:1px;background:#e6e6e6"></div>
<div style="left:755px;top:189px;width:131px;height:1px;background:#e6e6e6"></div>
<div style="left:755px;top:219px;width:131px;height:1px;background:#e6e6e6"></div>
<div style="left:755px;top:248px;width:131px;height:1px;background:#e6e6e6"></div>
<div style="left:755px;top:278px;width:131px;height:1px;background:#e6e6e6"></div>
<div style="left:755px;top:308px;width:131px;height:1px;background:#e6e6e6"></div>
<div style="left:755px;top:338px;width:131px;height:1px;background:#e6e6e6"></div>

<div style="left:755px;top:190px;width:131px;height:29px;background:#2a68a3"></div>
<span style="left:757.60px;top:104.50px;font-size:12.5px;line-height:20px;color:#4a4a4a;transform:scaleX(0.988);transform-origin:0 50%;">Экспресс</span>
<span style="left:757.60px;top:134.60px;font-size:12.5px;line-height:20px;color:#4a4a4a;transform:scaleX(0.969);transform-origin:0 50%;">Одиночные</span>
<span style="left:757.60px;top:164.70px;font-size:12.5px;line-height:20px;color:#4a4a4a;">Лаки</span>
<span style="left:757.60px;top:223.80px;font-size:12.5px;line-height:20px;color:#4a4a4a;transform:scaleX(0.965);transform-origin:0 50%;">Патент</span>
<span style="left:757.60px;top:253.70px;font-size:12.5px;line-height:20px;color:#4a4a4a;">Мультиставка</span>
<span style="left:757.60px;top:283.80px;font-size:12.5px;line-height:20px;color:#4a4a4a;transform:scaleX(0.993);transform-origin:0 50%;">Условная ставка</span>
<span style="left:757.60px;top:313.70px;font-size:12.5px;line-height:20px;color:#4a4a4a;transform:scaleX(0.986);transform-origin:0 50%;">Система 2/4</span>
<span style="left:757.60px;top:342.80px;font-size:12.5px;line-height:20px;color:#4a4a4a;transform:scaleX(0.986);transform-origin:0 50%;">Система 3/4</span>
<span style="left:757.70px;top:194.50px;font-size:12.5px;line-height:20px;color:#f2f8ff;font-weight:700;transform:scaleX(0.944);transform-origin:0 50%;-webkit-text-stroke:0.35px #f2f8ff;">Цепочка</span>
<!-- red boxes -->
<div style="left:751px;top:59px;width:122px;height:33px;border:5px solid #dc1f2b"></div>
<div style="left:750px;top:182px;width:127px;height:33px;border:5px solid #dc1f2b"></div>
</div>
</body>
</html>
